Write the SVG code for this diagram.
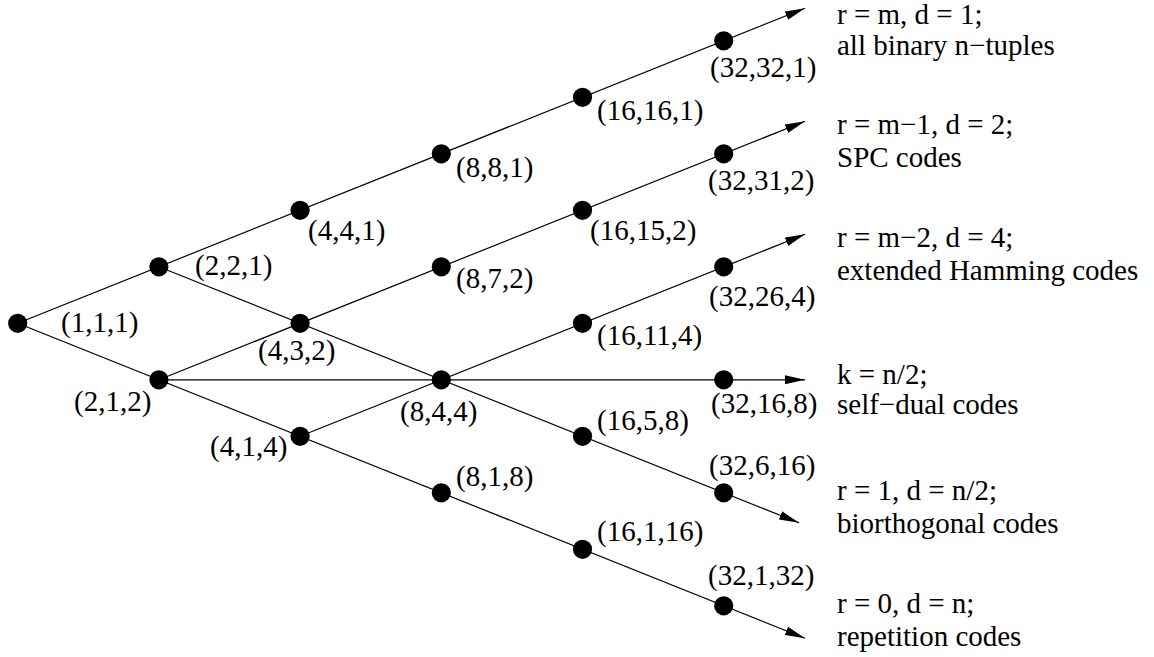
<svg xmlns="http://www.w3.org/2000/svg" width="1154" height="657" viewBox="0 0 1154 657">
<style>
.t{font-family:"Liberation Serif","Times New Roman","DejaVu Serif",serif;font-size:29px;fill:#000}
.c{stroke:#000;stroke-width:1.2;fill:none}
.n{fill:#000}
</style>
<defs>
<marker id="ah" markerUnits="userSpaceOnUse" markerWidth="21" markerHeight="10" refX="20" refY="5" orient="auto" viewBox="0 0 21 10">
<path d="M0,0.5 L20,5 L0,9.5 z" fill="#000"/>
</marker>
</defs>
<rect width="1154" height="657" fill="#fff"/>
<g id="connectors">
<line class="c" x1="17.7" y1="323.3" x2="805" y2="8.2" marker-end="url(#ah)"/>
<line class="c" x1="158.9" y1="379.8" x2="805" y2="121.3" marker-end="url(#ah)"/>
<line class="c" x1="300.1" y1="436.3" x2="805" y2="234.3" marker-end="url(#ah)"/>
<line class="c" x1="158.9" y1="379.8" x2="805" y2="379.8" marker-end="url(#ah)"/>
<line class="c" x1="158.9" y1="266.8" x2="799" y2="522.8" marker-end="url(#ah)"/>
<line class="c" x1="17.7" y1="323.3" x2="805" y2="638.3" marker-end="url(#ah)"/>
</g>
<g id="n111"><circle class="n" cx="17.7" cy="323.3" r="9.6"/><text class="t" x="61" y="332">(1,1,1)</text></g>
<g id="n221"><circle class="n" cx="158.9" cy="266.8" r="9.6"/><text class="t" x="195" y="275">(2,2,1)</text></g>
<g id="n212"><circle class="n" cx="158.9" cy="379.8" r="9.6"/><text class="t" x="74" y="411">(2,1,2)</text></g>
<g id="n441"><circle class="n" cx="300.1" cy="210.3" r="9.6"/><text class="t" x="308" y="240">(4,4,1)</text></g>
<g id="n432"><circle class="n" cx="300.1" cy="323.3" r="9.6"/><text class="t" x="258" y="360">(4,3,2)</text></g>
<g id="n414"><circle class="n" cx="300.1" cy="436.3" r="9.6"/><text class="t" x="210" y="456">(4,1,4)</text></g>
<g id="n881"><circle class="n" cx="441.3" cy="153.8" r="9.6"/><text class="t" x="456" y="177">(8,8,1)</text></g>
<g id="n872"><circle class="n" cx="441.3" cy="266.8" r="9.6"/><text class="t" x="456" y="288">(8,7,2)</text></g>
<g id="n844"><circle class="n" cx="441.3" cy="379.8" r="9.6"/><text class="t" x="400" y="421">(8,4,4)</text></g>
<g id="n818"><circle class="n" cx="441.3" cy="492.8" r="9.6"/><text class="t" x="456" y="486">(8,1,8)</text></g>
<g id="n16161"><circle class="n" cx="582.5" cy="97.3" r="9.6"/><text class="t" x="597" y="120">(16,16,1)</text></g>
<g id="n16152"><circle class="n" cx="582.5" cy="210.3" r="9.6"/><text class="t" x="590" y="240">(16,15,2)</text></g>
<g id="n16114"><circle class="n" cx="582.5" cy="323.3" r="9.6"/><text class="t" x="597" y="345">(16,11,4)</text></g>
<g id="n1658"><circle class="n" cx="582.5" cy="436.3" r="9.6"/><text class="t" x="597" y="430">(16,5,8)</text></g>
<g id="n16116"><circle class="n" cx="582.5" cy="549.3" r="9.6"/><text class="t" x="597" y="541">(16,1,16)</text></g>
<g id="n32321"><circle class="n" cx="723.7" cy="40.8" r="9.6"/><text class="t" x="710" y="77">(32,32,1)</text></g>
<g id="n32312"><circle class="n" cx="723.7" cy="153.8" r="9.6"/><text class="t" x="708" y="190">(32,31,2)</text></g>
<g id="n32264"><circle class="n" cx="723.7" cy="266.8" r="9.6"/><text class="t" x="709" y="306">(32,26,4)</text></g>
<g id="n32168"><circle class="n" cx="723.7" cy="379.8" r="9.6"/><text class="t" x="711" y="413">(32,16,8)</text></g>
<g id="n32616"><circle class="n" cx="723.7" cy="492.8" r="9.6"/><text class="t" x="709" y="475">(32,6,16)</text></g>
<g id="n32132"><circle class="n" cx="723.7" cy="605.8" r="9.6"/><text class="t" x="708" y="585">(32,1,32)</text></g>
<g id="labels">
<text class="t" x="837" y="24">r = m, d = 1;</text>
<text class="t" x="837" y="55">all binary n−tuples</text>
<text class="t" x="837" y="134">r = m−1, d = 2;</text>
<text class="t" x="837" y="167">SPC codes</text>
<text class="t" x="837" y="247">r = m−2, d = 4;</text>
<text class="t" x="837" y="280">extended Hamming codes</text>
<text class="t" x="837" y="384">k = n/2;</text>
<text class="t" x="837" y="414">self−dual codes</text>
<text class="t" x="837" y="500">r = 1, d = n/2;</text>
<text class="t" x="837" y="533">biorthogonal codes</text>
<text class="t" x="837" y="613">r = 0, d = n;</text>
<text class="t" x="837" y="646">repetition codes</text>
</g>
</svg>
